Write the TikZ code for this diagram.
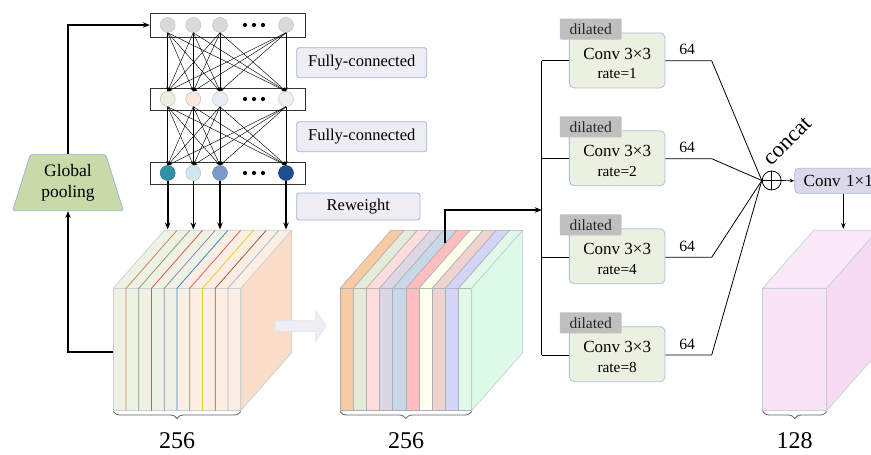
\documentclass[tikz,border=0pt]{standalone}
\usepackage{fontspec}
\setmainfont{Liberation Serif}
\usetikzlibrary{arrows.meta,shapes.geometric,decorations.pathreplacing,calc}
\definecolor{lblfill}{HTML}{EEEDF3}
\definecolor{lblbord}{HTML}{9DB5D8}
\definecolor{convfill}{HTML}{EBF0E0}
\definecolor{convbord}{HTML}{A9C0D8}
\definecolor{cvoneb}{HTML}{DCD8EC}
\definecolor{tagfill}{HTML}{BFBFBF}
\definecolor{gpfill}{HTML}{C9DAA9}
\definecolor{edgec}{HTML}{C8D0D4}
\definecolor{cirA}{HTML}{D9D9D9}
\definecolor{cirAb}{HTML}{C4C4C4}
\definecolor{mA}{HTML}{EBF0E0}
\definecolor{mB}{HTML}{FCE8DC}
\definecolor{mC}{HTML}{E9EEF5}
\definecolor{mD}{HTML}{EEEEF4}
\definecolor{bA}{HTML}{3192A9}
\definecolor{bB}{HTML}{CDE8EE}
\definecolor{bC}{HTML}{7C9AC7}
\definecolor{bD}{HTML}{1F4E8C}
\definecolor{cg}{HTML}{EEF2E4}
\definecolor{cp}{HTML}{FDEEE3}
\definecolor{cr}{HTML}{FADDC8}
\definecolor{lA}{HTML}{C8864E}
\definecolor{lB}{HTML}{8E9A6A}
\definecolor{lC}{HTML}{E8504E}
\definecolor{lD}{HTML}{9D82B8}
\definecolor{lE}{HTML}{3D85C6}
\definecolor{lF}{HTML}{E06060}
\definecolor{lG}{HTML}{E8D020}
\definecolor{lH}{HTML}{9E5A4C}
\definecolor{lI}{HTML}{9DB8E0}
\definecolor{sA}{HTML}{F8CBA3}
\definecolor{sB}{HTML}{E5EBD8}
\definecolor{sC}{HTML}{FFDDDD}
\definecolor{sD}{HTML}{DDD6E5}
\definecolor{sE}{HTML}{C9D8E7}
\definecolor{sF}{HTML}{FFBDBF}
\definecolor{sG}{HTML}{FFFFEE}
\definecolor{sH}{HTML}{EED3CF}
\definecolor{sI}{HTML}{D4D4F8}
\definecolor{sJ}{HTML}{E2F8E9}
\definecolor{sR}{HTML}{DDFAE8}
\definecolor{pkF}{HTML}{F9E4F6}
\definecolor{pkT}{HTML}{FAE9F8}
\definecolor{pkR}{HTML}{F7DBF2}
\definecolor{garrow}{HTML}{EEEDF3}
\definecolor{garrowb}{HTML}{E2E2EA}
\definecolor{bracec}{HTML}{606060}
\begin{document}
\begin{tikzpicture}[x=1pt,y=-1pt,
  lbl/.style={draw=lblbord,fill=lblfill,rounded corners=2.5pt,line width=0.8pt,font=\fontsize{16.5}{18}\selectfont},
  conv/.style={draw=convbord,fill=convfill,rounded corners=5pt,line width=0.8pt,minimum width=95.7pt,minimum height=55pt,inner sep=0pt},
  tagbox/.style={fill=tagfill,rounded corners=1pt,minimum width=61.7pt,minimum height=21pt,inner sep=0pt,font=\fontsize{15.5}{17}\selectfont,text=black!85},
  layer/.style={draw=black!80,fill=white,line width=0.7pt,minimum width=155pt,inner sep=0pt},
  circ/.style={circle,draw=cirAb,line width=0.5pt,minimum size=15pt,inner sep=0pt},
  conn/.style={line width=0.45pt,-{Stealth[length=4pt,width=3.2pt]}},
  thickarr/.style={line width=1.6pt,-{Stealth[length=7pt,width=5.5pt]}},
  thinline/.style={line width=0.8pt},
  mybrace/.style={draw=bracec,line width=0.8pt,decorate,decoration={brace,mirror,amplitude=7pt,aspect=0.5}},
  big/.style={font=\fontsize{24}{26}\selectfont},
  sixtyfour/.style={font=\fontsize{15.7}{17}\selectfont},
  convtxt/.style={font=\fontsize{17}{19}\selectfont},
  ratetxt/.style={font=\fontsize{15.3}{17}\selectfont}
]
\useasboundingbox (0,0) rectangle (871,455);
\clip (0,0) rectangle (871,455);

% ---------------- network layers
\node[layer,minimum height=24pt] (L1) at (227.7,25) {};
\node[layer,minimum height=22pt] (L2) at (227.7,99) {};
\node[layer,minimum height=22pt] (L3) at (227.7,173) {};

\foreach \x/\n in {167.7/1,193.3/2,220/3,286/4}{
  \node[circ,fill=cirA] (t\n) at (\x,25) {};
}
\node[circ,fill=mA] (m1) at (167.7,99) {};
\node[circ,fill=mB] (m2) at (193.3,99) {};
\node[circ,fill=mC] (m3) at (220,99) {};
\node[circ,fill=mD] (m4) at (286,99) {};
\node[circ,fill=bA,draw=bA!80!black] (b1) at (167.7,173) {};
\node[circ,fill=bB] (b2) at (193.3,173) {};
\node[circ,fill=bC,draw=bC!90!black] (b3) at (220,173) {};
\node[circ,fill=bD,draw=bD!80!black] (b4) at (286,173) {};
\foreach \y in {25,99,173}{
  \foreach \x in {245,254,263}{
    \fill (\x,\y) circle (2.1pt);
  }
}
\foreach \i in {1,...,4}{
  \foreach \j in {1,...,4}{
    \draw[conn] (t\i.south) -- (m\j.north);
    \draw[conn] (m\i.south) -- (b\j.north);
  }
}

\node[lbl,minimum width=130pt,minimum height=30pt] (fc1) at (361.7,62.7) {Fully-connected};
\node[lbl,minimum width=130pt,minimum height=30pt] (fc2) at (361.7,136.7) {Fully-connected};
\node[lbl,minimum width=123.3pt,minimum height=27pt] (rw) at (358.3,206.5) {Reweight};

% ---------------- global pooling
\node[trapezium,trapezium stretches body,trapezium left angle=64.5,trapezium right angle=64.5,
  minimum width=110.6pt,minimum height=56.4pt,inner sep=0pt,fill=gpfill,draw=lblbord,line width=0.8pt,
  rounded corners=2pt,align=center,font=\fontsize{17.5}{21}\selectfont] (gp) at (68,182.5) {Global\\pooling};

% ---------------- cube 1
\def\xa{113.3}\def\xb{240.7}\def\yt{288.3}\def\yb{410.7}\def\w{12.74}\def\dx{51}\def\dy{58}
\foreach \col [count=\i from 0] in {cg,cg,cg,cg,cg,cp,cp,cp,cp,cp}{
  \fill[\col] ({\xa+\i*\w},\yt) rectangle ({\xa+\i*\w+\w},\yb);
  \fill[\col] ({\xa+\i*\w},\yt) -- ++(\dx,-\dy) -- ++(\w,0) -- ++(-\dx,\dy) -- cycle;
}
\filldraw[fill=cr,draw=edgec,line width=0.7pt] (\xb,\yt) -- ++(\dx,-\dy) -- ++(0,122.4) -- (\xb,\yb) -- cycle;
\draw[edgec,line width=0.7pt] (\xa,\yb) rectangle (\xb,\yt);
\draw[edgec,line width=0.7pt] (\xa,\yt) -- ++(\dx,-\dy) -- ++(127.4,0);
\foreach \col [count=\i] in {lA,lB,lC,lD,lE,lF,lG,lH,lI}{
  \draw[\col,line width=0.8pt] ({\xa+\i*\w},\yb) -- ({\xa+\i*\w},\yt) -- ++(\dx,-\dy);
}
\coordinate (c1a) at (167.7,229.5);
\coordinate (c1b) at (193.3,229.5);
\coordinate (c1c) at (220,229.5);
\coordinate (c1d) at (286,229.5);
\draw[thickarr] (b1.south) -- (c1a);
\draw[thickarr] (b2.south) -- (c1b);
\draw[thickarr] (b3.south) -- (c1c);
\draw[thickarr] (b4.south) -- (c1d);
\draw[mybrace] (\xa,411.5) -- (\xb,411.5);
\node[big] (n1) at (177,441) {256};

% feedback from cube to pooling, pooling to layer 1
\coordinate (c1left) at (113.3,351.7);
\draw[thickarr] (c1left) -| (gp.south);
\draw[thickarr] (gp.north) |- (L1.west);

% ---------------- grey arrow
\filldraw[fill=garrow,draw=garrowb,line width=0.5pt] (275,320.5) -- (315.5,320.5) -- (315.5,310.5) -- (326.5,326) -- (315.5,341.5) -- (315.5,331.5) -- (275,331.5) -- cycle;

% ---------------- cube 2
\def\xa{340}\def\xb{471.7}\def\w{13.17}
\foreach \col [count=\i from 0] in {sA,sB,sC,sD,sE,sF,sG,sH,sI,sJ}{
  \filldraw[fill=\col,draw=edgec!85!black,line width=0.6pt] ({\xa+\i*\w},\yt) rectangle ({\xa+\i*\w+\w},\yb);
  \filldraw[fill=\col,draw=edgec!85!black,line width=0.6pt] ({\xa+\i*\w},\yt) -- ++(\dx,-\dy) -- ++(\w,0) -- ++(-\dx,\dy) -- cycle;
}
\filldraw[fill=sR,draw=edgec,line width=0.7pt] (\xb,\yt) -- ++(\dx,-\dy) -- ++(0,122.4) -- (\xb,\yb) -- cycle;
\draw[mybrace] (\xa,411.5) -- (\xb,411.5);
\node[big] (n2) at (406,441) {256};
\coordinate (c2top) at (445,243);
\coordinate (treein) at (541.7,210);
\draw[thickarr] (c2top) |- (treein);

% ---------------- ASPP branches
\coordinate (trtop) at (541.7,60.7);
\coordinate (trbot) at (541.7,355);
\draw[thinline] (trtop) -- (trbot);
\node[draw,circle,line width=0.8pt,minimum size=19pt,inner sep=0pt] (cc) at (771.7,180.5) {};
\draw[line width=0.7pt] (cc.north) -- (cc.south) (cc.west) -- (cc.east);
\node[rotate=45,font=\fontsize{22.5}{24}\selectfont] (cat) at (788,141) {concat};

\foreach \yc/\r/\n/\yl in {60.4/1/1/60.7,158.3/2/2/158.7,256.3/4/3/257.3,354.2/8/4/355}{
  \node[conv] (cv\n) at (617.2,\yc) {};
  \node[tagbox] (tg\n) at ($(cv\n.north west)+(21.7,-3.5)$) {dilated};
  \node[convtxt] (ct\n) at ($(cv\n.center)+(0,-6.9)$) {Conv 3×3};
  \node[ratetxt] (rt\n) at ($(cv\n.center)+(0,13.2)$) {rate=\r};
  \coordinate (br\n) at (541.7,\yl);
  \coordinate (bk\n) at (711.7,\yl);
  \draw[thinline] (br\n) -- (br\n -| cv\n.west);
  \draw[thinline] (br\n -| cv\n.east) -- (bk\n) -- (cc.west);
  \node[sixtyfour] (sf\n) at ($(bk\n)+(-24.5,-11)$) {64};
}

% ---------------- conv 1x1
\node[draw=convbord,fill=cvoneb,rounded corners=4pt,line width=0.8pt,
  anchor=west,minimum height=25pt,minimum width=100pt,text width=82pt,inner xsep=9pt,align=left,
  font=\fontsize{17}{19}\selectfont] (c11) at (794.3,180.8) {Conv 1×1};
\draw[line width=0.7pt,-{Stealth[length=4.5pt,width=3.5pt]}] (cc.east) -- (c11.west);
\coordinate (c3top) at (843.3,229);
\draw[line width=1.2pt,-{Stealth[length=6pt,width=4.5pt]}] (c11.south -| c3top) -- (c3top);

% ---------------- cube 3
\def\xa{762.7}\def\xb{826.7}
\filldraw[fill=pkT,draw=edgec,line width=0.7pt] (\xa,\yt) -- ++(\dx,-\dy) -- ++(64,0) -- (\xb,\yt) -- cycle;
\filldraw[fill=pkR,draw=edgec,line width=0.7pt] (\xb,\yt) -- ++(\dx,-\dy) -- ++(0,122.4) -- (\xb,\yb) -- cycle;
\filldraw[fill=pkF,draw=edgec,line width=0.7pt] (\xa,\yt) rectangle (\xb,\yb);
\draw[mybrace] (\xa,411.5) -- (\xb,411.5);
\node[big] (n3) at (794.5,441) {128};
\end{tikzpicture}
\end{document}
